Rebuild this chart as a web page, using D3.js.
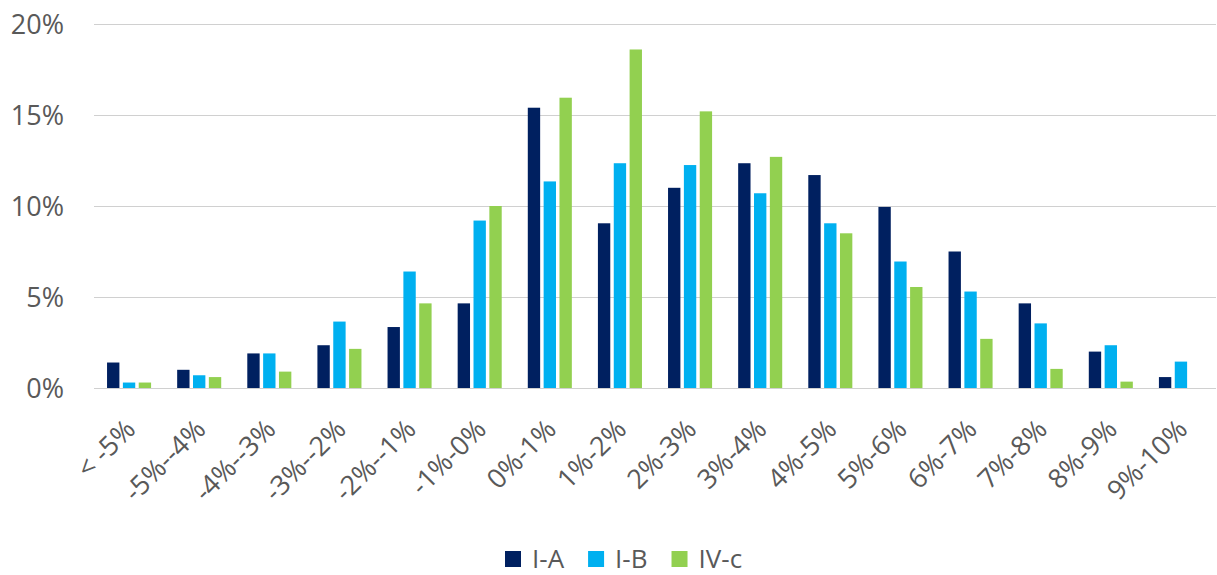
<!DOCTYPE html>
<html>
<head>
<meta charset="utf-8">
<script src="https://cdn.jsdelivr.net/npm/d3@7"></script>
<style>
  html, body { margin: 0; padding: 0; background: #fff; }
  svg { display: block; }
  text { font-family: "Open Sans", sans-serif; fill: #595959; }
</style>
</head>
<body>
<svg id="chart" width="1217" height="575"></svg>
<script>
const categories = ["< -5%", "-5%--4%", "-4%--3%", "-3%--2%", "-2%--1%", "-1%-0%", "0%-1%", "1%-2%",
                    "2%-3%", "3%-4%", "4%-5%", "5%-6%", "6%-7%", "7%-8%", "8%-9%", "9%-10%"];
const seriesNames = ["I-A", "I-B", "IV-c"];
const seriesColors = ["#002060", "#00B0F0", "#92D050"];
const valuesIA  = [1.4, 1.0, 1.9, 2.35, 3.35, 4.65, 15.4, 9.05, 11.0, 12.35, 11.7, 9.95, 7.5, 4.65, 2.0, 0.6];
const valuesIB  = [0.3, 0.7, 1.9, 3.65, 6.4, 9.2, 11.35, 12.35, 12.25, 10.7, 9.05, 6.95, 5.3, 3.55, 2.35, 1.45];
const valuesIVc = [0.3, 0.6, 0.9, 2.15, 4.65, 10.0, 15.95, 18.6, 15.2, 12.7, 8.5, 5.55, 2.7, 1.05, 0.35, 0];
const yTicks = [0, 5, 10, 15, 20];

const allSeries = [valuesIA, valuesIB, valuesIVc];

const svg = d3.select("#chart");
const plotLeft = 94, plotRight = 1216, plotTop = 24, plotBottom = 388;

const x = d3.scaleBand().domain(categories).range([plotLeft, plotRight]).paddingInner(0.372).paddingOuter(0.186);
const xs = d3.scaleBand().domain(seriesNames).range([0, x.bandwidth()]).paddingInner(0.22);
const y = d3.scaleLinear().domain([0, 20]).range([plotBottom, plotTop]);

// gridlines
svg.append("g").selectAll("line").data(yTicks).join("line")
  .attr("x1", plotLeft).attr("x2", plotRight)
  .attr("y1", d => Math.round(y(d)) + 0.5).attr("y2", d => Math.round(y(d)) + 0.5)
  .attr("stroke", "#d0d0d0").attr("stroke-width", 1.2);

// y axis labels
const yAxis = d3.axisLeft(y).tickValues(yTicks).tickFormat(d => d + "%").tickSize(0).tickPadding(0);
const yg = svg.append("g").attr("transform", `translate(64,0)`).call(yAxis);
yg.select(".domain").remove();
yg.selectAll("text").attr("font-size", 27).style("font-family", "'Open Sans', sans-serif")
  .attr("fill", "#595959").attr("dy", "0.35em");

// bars
const groups = svg.append("g").selectAll("g").data(categories).join("g")
  .attr("transform", d => `translate(${x(d)},0)`);
groups.selectAll("rect").data((c, i) => seriesNames.map((s, j) => ({s, j, v: allSeries[j][i]})).filter(d => d.v > 0))
  .join("rect")
  .attr("x", d => xs(d.s))
  .attr("width", xs.bandwidth())
  .attr("y", d => y(d.v))
  .attr("height", d => plotBottom - y(d.v))
  .attr("fill", d => seriesColors[d.j]);

// x axis labels
const xAxis = d3.axisBottom(x).tickSize(0).tickPadding(0);
const xg = svg.append("g").call(xAxis);
xg.select(".domain").remove();
xg.selectAll(".tick").attr("transform", d => `translate(${x(d) + x.bandwidth() / 2 + 8},431)`);
xg.selectAll("text").attr("font-size", 27).style("font-family", "'Open Sans', sans-serif")
  .attr("fill", "#595959").attr("text-anchor", "end").attr("x", 0).attr("y", 0).attr("dy", 0)
  .attr("transform", "rotate(-45)");

// legend
const legend = svg.append("g");
let lx = 505;
seriesNames.forEach((s, j) => {
  legend.append("rect").attr("x", lx).attr("y", 551).attr("width", 16).attr("height", 16).attr("fill", seriesColors[j]);
  const t = legend.append("text").attr("x", lx + 27).attr("y", 568).attr("font-size", 26).text(s);
  lx += 27 + t.node().getComputedTextLength() + 24;
});
</script>
</body>
</html>
